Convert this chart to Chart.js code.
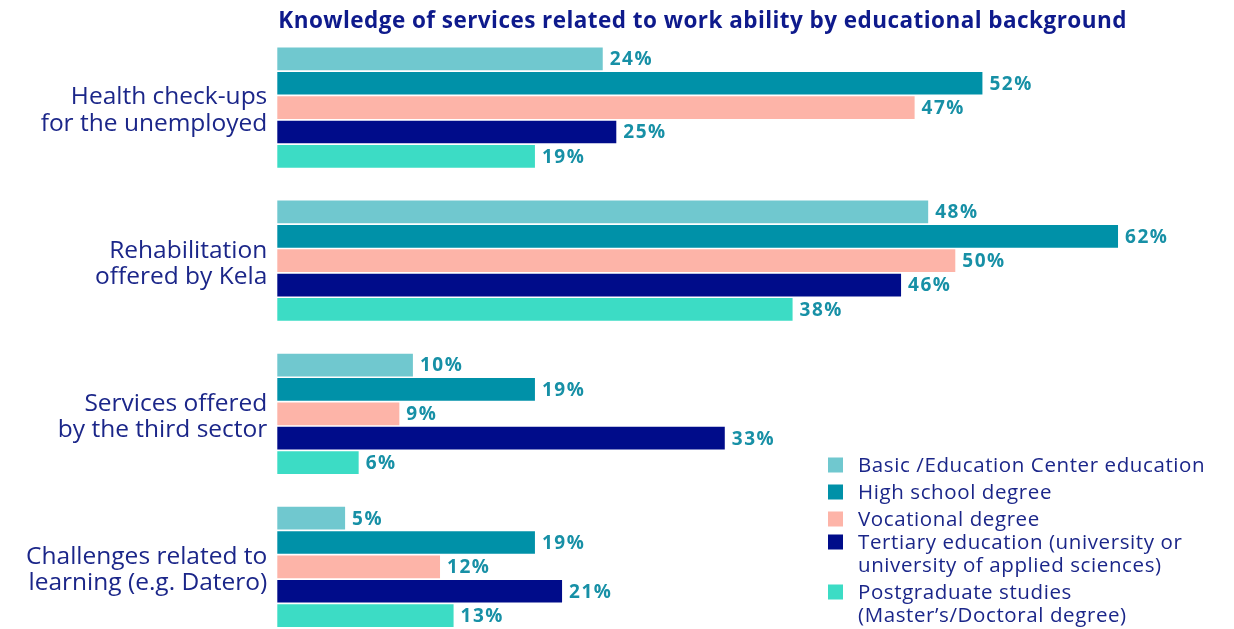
<!DOCTYPE html>
<html>
<head>
<meta charset="utf-8">
<script src="https://cdn.jsdelivr.net/npm/chart.js@4/dist/chart.umd.min.js"></script>
<style>
  html, body { margin: 0; padding: 0; background: #ffffff; overflow: hidden; }
  #wrap { width: 1234px; height: 629px; position: relative; }
</style>
</head>
<body>
<div id="wrap"><canvas id="chart" width="1234" height="629"></canvas></div>
<script>
// Services asked about (multi-line axis labels)
const categories = [
  ['Health check-ups', 'for the unemployed'],
  ['Rehabilitation', 'offered by Kela'],
  ['Services offered', 'by the third sector'],
  ['Challenges related to', 'learning (e.g. Datero)']
];

// Educational background groups (legend text, line by line)
const seriesNames = [
  ['Basic /Education Center education'],
  ['High school degree'],
  ['Vocational degree'],
  ['Tertiary education (university or', 'university of applied sciences)'],
  ['Postgraduate studies', '(Master\u2019s/Doctoral degree)']
];

// Share who know the service, % per group
const basicEdu      = [24, 48, 10, 5];
const highSchool    = [52, 62, 19, 19];
const vocational    = [47, 50, 9, 12];
const tertiary      = [25, 46, 33, 21];
const postgraduate  = [19, 38, 6, 13];

const seriesColors = ['#70c8cf', '#0091a8', '#fdb4a8', '#000c8a', '#3cdcc5'];

const titleText = 'Knowledge of services related to work ability by educational background';

const FONT = '"Open Sans", "Noto Sans", sans-serif';
const NAVY_TEXT = '#1b2689';
const VALUE_TEXT = '#1790a6';

const seriesValues = [basicEdu, highSchool, vocational, tertiary, postgraduate];

const datasets = seriesValues.map((vals, i) => ({
  label: seriesNames[i].join(' '),
  data: vals,
  backgroundColor: seriesColors[i],
  borderWidth: 0,
  categoryPercentage: 0.796,
  barPercentage: 0.93,
  clip: false
}));

// Title drawn above the plot, left-aligned with the bars
const titlePlugin = {
  id: 'topTitle',
  afterDraw(chart) {
    const ctx = chart.ctx;
    ctx.save();
    ctx.font = '700 22.5px ' + FONT;
    ctx.letterSpacing = '0.45px';
    ctx.fillStyle = '#0e1a8c';
    ctx.textAlign = 'left';
    ctx.textBaseline = 'middle';
    ctx.fillText(titleText, chart.chartArea.left + 1, 22);
    ctx.restore();
  }
};

// Percentage labels at the end of each bar
const valueLabels = {
  id: 'valueLabels',
  afterDatasetsDraw(chart) {
    const ctx = chart.ctx;
    ctx.save();
    ctx.font = '700 19px ' + FONT;
    ctx.letterSpacing = '1.5px';
    ctx.fillStyle = VALUE_TEXT;
    ctx.textAlign = 'left';
    ctx.textBaseline = 'middle';
    chart.data.datasets.forEach((ds, di) => {
      const meta = chart.getDatasetMeta(di);
      meta.data.forEach((bar, i) => {
        ctx.fillText(ds.data[i] + '%', bar.x + 7, bar.y + 1);
      });
    });
    ctx.restore();
  }
};

// Legend block in the lower right corner
const sideLegend = {
  id: 'sideLegend',
  afterDraw(chart) {
    const ctx = chart.ctx;
    const rows = [465, 492, 519, 542, 592];
    const lineGap = 23.5;
    ctx.save();
    ctx.font = '400 20.5px ' + FONT;
    ctx.letterSpacing = '0.6px';
    ctx.textAlign = 'left';
    ctx.textBaseline = 'middle';
    chart.data.datasets.forEach((ds, i) => {
      const y = rows[i];
      ctx.fillStyle = ds.backgroundColor;
      ctx.fillRect(828, y - 7.5, 15, 15);
      ctx.fillStyle = NAVY_TEXT;
      seriesNames[i].forEach((line, k) => {
        ctx.fillText(line, 858, y + 1 + k * lineGap);
      });
    });
    ctx.restore();
  }
};

new Chart(document.getElementById('chart'), {
  type: 'bar',
  data: { labels: categories, datasets },
  options: {
    indexAxis: 'y',
    responsive: false,
    animation: false,
    layout: { padding: { top: 107.6, bottom: 62.1, left: 0, right: 7.5 } },
    plugins: {
      legend: { display: false },
      title: { display: false },
      tooltip: { enabled: false }
    },
    scales: {
      x: {
        display: false,
        min: 0,
        max: 70
      },
      y: {
        offset: false,
        border: { display: false },
        grid: { display: false, drawTicks: false },
        ticks: {
          color: NAVY_TEXT,
          padding: 10,
          labelOffset: 3,
          font: { family: FONT, size: 24.5, lineHeight: 1.07 }
        },
        afterFit(scale) { scale.width = 277.3; }
      }
    }
  },
  plugins: [titlePlugin, valueLabels, sideLegend]
});
</script>
</body>
</html>
